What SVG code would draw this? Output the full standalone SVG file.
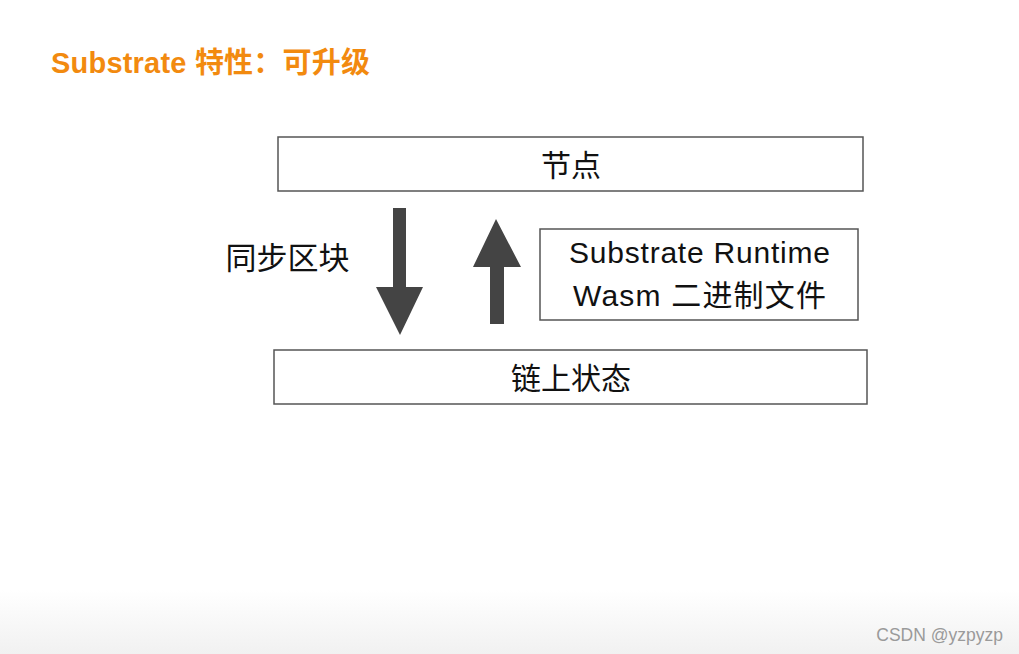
<svg xmlns="http://www.w3.org/2000/svg" width="1019" height="654" viewBox="0 0 1019 654">
<defs>
<linearGradient id="bg" x1="0" y1="0" x2="0" y2="1">
<stop offset="0" stop-color="#ffffff"/>
<stop offset="1" stop-color="#f1f1f1"/>
</linearGradient>
<style>
.box{fill:#fff;stroke:#555;stroke-width:1.5}
.t{font-family:"Liberation Sans","Noto Sans CJK SC",sans-serif;fill:#111;text-anchor:middle}
.arrow{fill:#444}
</style>
</defs>
<rect width="1019" height="654" fill="#fff"/>
<rect x="0" y="590" width="1019" height="64" fill="url(#bg)"/>
<text x="51" y="73" font-family="'Liberation Sans','Noto Sans CJK SC',sans-serif" font-size="29" font-weight="bold" fill="#F28A0F" textLength="319" lengthAdjust="spacing">Substrate 特性：可升级</text>
<g id="node-jiedian">
<rect class="box" x="278" y="137" width="585" height="54"/>
<text class="t" x="571" y="176" font-size="30">节点</text>
</g>
<g id="node-runtime">
<rect class="box" x="540" y="229" width="318" height="91"/>
<text class="t" x="699.5" y="263" font-size="30" textLength="261" lengthAdjust="spacing">Substrate Runtime</text>
<text class="t" x="699.5" y="306" font-size="30" textLength="253" lengthAdjust="spacing">Wasm 二进制文件</text>
</g>
<g id="node-state">
<rect class="box" x="274" y="350" width="593" height="54"/>
<text class="t" x="571" y="389" font-size="30">链上状态</text>
</g>
<g id="label-sync">
<text class="t" x="287.5" y="269" font-size="31">同步区块</text>
</g>
<g id="connectors">
<polygon class="arrow" points="393,208 406,208 406,287 423,287 400,335 376,287 393,287"/>
<polygon class="arrow" points="496,219 521,267 504,267 504,324 490,324 490,267 473,267"/>
</g>
<text x="1003" y="641" font-family="'Liberation Sans',sans-serif" font-size="17.5" fill="#9a9a9a" text-anchor="end">CSDN @yzpyzp</text>
</svg>
